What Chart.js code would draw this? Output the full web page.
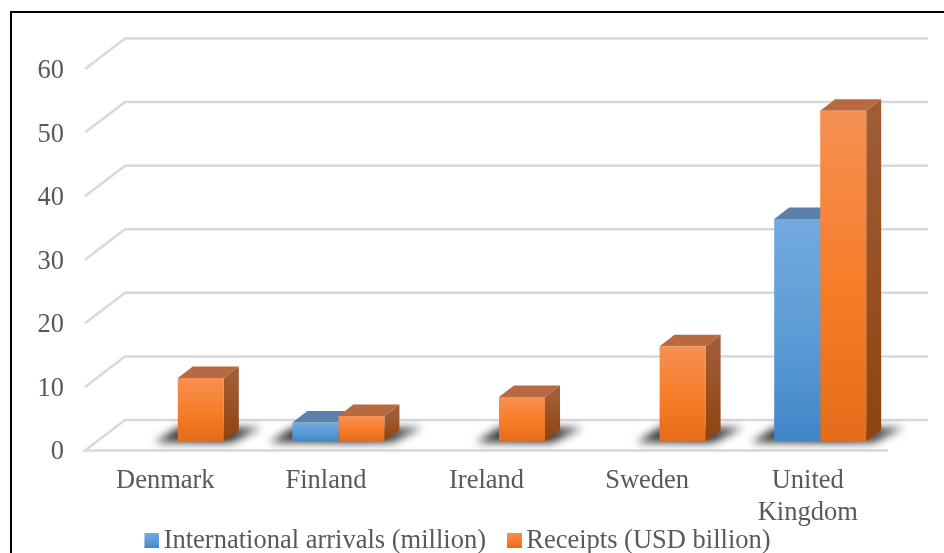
<!DOCTYPE html>
<html>
<head>
<meta charset="utf-8">
<script src="https://cdn.jsdelivr.net/npm/chart.js@4/dist/chart.umd.js"></script>
<style>
    html, body { margin: 0; padding: 0; background: #fff; overflow: hidden; }
    #wrap { position: relative; width: 944px; height: 553px; overflow: hidden; }
    #frame { position: absolute; left: 10px; top: 11px; right: -6px; bottom: -6px; border: 2px solid #000; pointer-events: none; }
</style>
</head>
<body>
<div id="wrap">
    <canvas id="chart" width="944" height="553"></canvas>
    <div id="frame"></div>
</div>
<script>
const categories = ["Denmark", "Finland", "Ireland", "Sweden", ["United", "Kingdom"]];
const arrivals = [null, 3, null, null, 35];
const receipts = [10, 4, 7, 15, 52];
const yTicks = [0, 10, 20, 30, 40, 50, 60];

const seriesNames = ["International arrivals (million)", "Receipts (USD billion)"];
const frontStops = [["#74a9de", "#5b9bd5", "#4085c8"], ["#f79052", "#f67c28", "#e56c1a"]];
const topColors = ["#5a80ab", "#b76a3f"];
const sideColors = [["#5f7fa8", "#33628f"], ["#a05c34", "#8f440f"]];

const textColor = "#595959";
const gridColor = "#d9d9d9";
const fontFamily = "'Liberation Serif', serif";
const fontSize = 26.5;

// floor depth of the plot, and where the bars stand on it
// planeY: y labels sit a little under their gridlines in the original
const planeY = -2;
const wallX = 40, wallY = -30.5;
const barX = 12.5, barY = -9 + planeY;
const depthX = 15, depthY = -11.5;

const ctx = document.getElementById("chart").getContext("2d");

const frontFill = (i) => (c) => {
    if (c.type !== "data" || c.parsed == null || c.parsed.y == null || isNaN(c.parsed.y)) return frontStops[i][1];
    const y = c.chart.scales.y;
    const g = c.chart.ctx.createLinearGradient(0, y.getPixelForValue(c.parsed.y), 0, y.getPixelForValue(0));
    g.addColorStop(0, frontStops[i][0]);
    g.addColorStop(0.55, frontStops[i][1]);
    g.addColorStop(1, frontStops[i][2]);
    return g;
};

// 4px of empty space on the left nudges the square toward the text
const swatch = (i) => {
    const s = document.createElement("canvas");
    s.width = 19;
    s.height = 15;
    const sc = s.getContext("2d");
    const g = sc.createLinearGradient(0, 0, 0, 15);
    g.addColorStop(0, frontStops[i][0]);
    g.addColorStop(0.55, frontStops[i][1]);
    g.addColorStop(1, frontStops[i][2]);
    sc.fillStyle = g;
    sc.fillRect(4, 0, 15, 15);
    return s;
};

const poly = (c, pts, fill) => {
    c.beginPath();
    pts.forEach((p, i) => i ? c.lineTo(p[0], p[1]) : c.moveTo(p[0], p[1]));
    c.closePath();
    c.fillStyle = fill;
    c.fill();
};

const perspective = {
    id: "perspective",
    afterLayout(chart) {
        // legend sits right of the canvas centre
        chart.legend.left += 16;
        chart.legend.right += 16;
        // tick labels are clipped to the axis box, and Kingdom needs the second line
        chart.scales.x.bottom = chart.height;
    },
    beforeDatasetsDraw(chart) {
        const c = chart.ctx;
        const { x: xs, y: ys } = chart.scales;

        // walls and floor
        c.save();
        c.strokeStyle = gridColor;
        c.lineWidth = 2.5;
        ys.ticks.forEach(t => {
            const py = ys.getPixelForValue(t.value) + planeY;
            c.beginPath();
            if (t.value === 0) {
                c.moveTo(xs.right, py);
                c.lineTo(xs.left, py);
            } else {
                c.moveTo(xs.left, py);
            }
            c.lineTo(xs.left + wallX, py + wallY);
            c.lineTo(xs.right + wallX, py + wallY);
            c.stroke();
        });
        c.restore();

        // soft shadow on the floor, one per group of touching bars
        c.save();
        c.translate(barX, barY);
        c.filter = "blur(4px)";
        categories.forEach((_, i) => {
            const bars = [0, 1].filter(d => chart.data.datasets[d].data[i] != null)
                .map(d => chart.getDatasetMeta(d).data[i]);
            if (!bars.length) return;
            const l = Math.min(...bars.map(b => b.x - b.width / 2));
            const r = Math.max(...bars.map(b => b.x + b.width / 2));
            const b = bars[0].base;
            const g = c.createLinearGradient(l - 24, 0, r + 38, 0);
            g.addColorStop(0, "#444");
            g.addColorStop(0.6, "#222");
            g.addColorStop(1, "#666");
            poly(c, [[l - 23, b + 1], [r + 8, b + 1], [r + 38, b - 14], [l, b - 14]], g);
        });
        c.filter = "none";

        // top and side faces, the fronts go over them
        [0, 1].forEach(d => {
            chart.getDatasetMeta(d).data.forEach((bar, i) => {
                if (chart.data.datasets[d].data[i] == null) return;
                const l = bar.x - bar.width / 2, r = bar.x + bar.width / 2;
                const g = c.createLinearGradient(0, bar.y, 0, bar.base);
                g.addColorStop(0, sideColors[d][0]);
                g.addColorStop(1, sideColors[d][1]);
                poly(c, [[r, bar.y], [r + depthX, bar.y + depthY], [r + depthX, bar.base + depthY], [r, bar.base]], g);
                poly(c, [[l, bar.y], [r, bar.y], [r + depthX, bar.y + depthY], [l + depthX, bar.y + depthY]], topColors[d]);
            });
        });
        c.restore();

        c.save();
        c.translate(barX, barY);
    },
    afterDatasetsDraw(chart) {
        chart.ctx.restore();
    }
};

new Chart(ctx, {
    type: "bar",
    data: {
        labels: categories,
        datasets: [
            { label: seriesNames[0], data: arrivals, backgroundColor: frontFill(0), pointStyle: swatch(0) },
            { label: seriesNames[1], data: receipts, backgroundColor: frontFill(1), pointStyle: swatch(1) }
        ]
    },
    options: {
        responsive: false,
        animation: false,
        layout: { padding: { top: 71, right: 56, left: 0, bottom: -11 } },
        datasets: { bar: { categoryPercentage: 0.573, barPercentage: 1 } },
        scales: {
            x: {
                grid: { display: false },
                border: { display: false },
                ticks: { color: textColor, font: { family: fontFamily, size: fontSize }, padding: 5, maxRotation: 0, autoSkip: false },
                afterFit(scale) { scale.height = 49; }
            },
            y: {
                min: 0,
                max: 60,
                afterBuildTicks(scale) { scale.ticks = yTicks.map(v => ({ value: v })); },
                grid: { display: false },
                border: { display: false },
                ticks: { color: textColor, font: { family: fontFamily, size: fontSize }, padding: 13 },
                afterFit(scale) { scale.width = 85; }
            }
        },
        plugins: {
            tooltip: { enabled: false },
            legend: {
                position: "bottom",
                labels: {
                    usePointStyle: true,
                    pointStyleWidth: 1,
                    color: textColor,
                    font: { family: fontFamily, size: fontSize },
                    padding: 26,
                    generateLabels(chart) {
                        return chart.data.datasets.map((d, i) => ({
                            text: d.label,
                            pointStyle: d.pointStyle,
                            fontColor: textColor,
                            datasetIndex: i
                        }));
                    }
                }
            }
        }
    },
    plugins: [perspective]
});
</script>
</body>
</html>
